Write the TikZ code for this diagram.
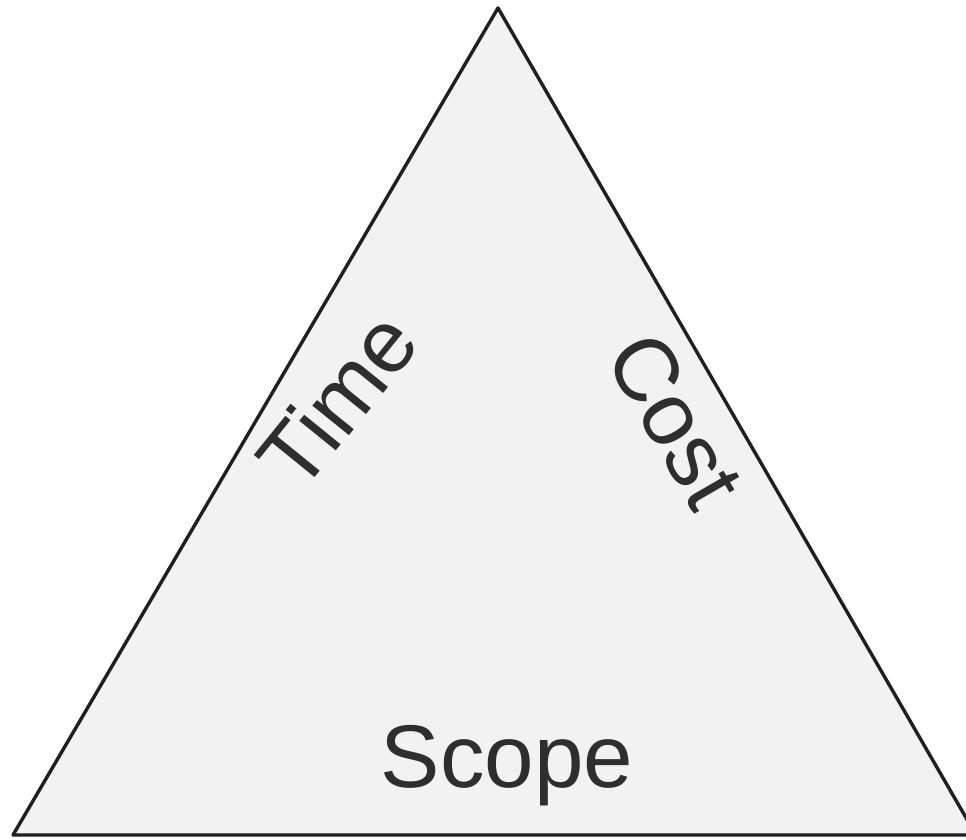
\documentclass[tikz,border=0pt]{standalone}
\usepackage{fontspec}
\setmainfont{Liberation Sans}
\definecolor{tri}{HTML}{F2F2F2}
\definecolor{ink}{HTML}{2E2E2E}
\begin{document}
\begin{tikzpicture}[x=1pt,y=1pt,
  side/.style={font=\fontsize{89}{100}\selectfont, text=ink, inner sep=0pt}]
\useasboundingbox (0,0) rectangle (966,840);
\clip (0,0) rectangle (966,840);
\fill[white] (0,0) rectangle (966,840);
\coordinate (A) at (498,832);
\coordinate (L) at (13,5);
\coordinate (R) at (976,5);
\draw[line width=3.4pt, draw=black!88, fill=tri, line join=round] (A) -- (L) -- (R) -- cycle;
\node[side, rotate=51, anchor=center] (time) at (337,440) {Time};
\node[side, rotate=-60, anchor=center] (cost) at (676,420) {Cost};
\node[side, anchor=base] (scope) at (507,52) {Scope};
\end{tikzpicture}
\end{document}
